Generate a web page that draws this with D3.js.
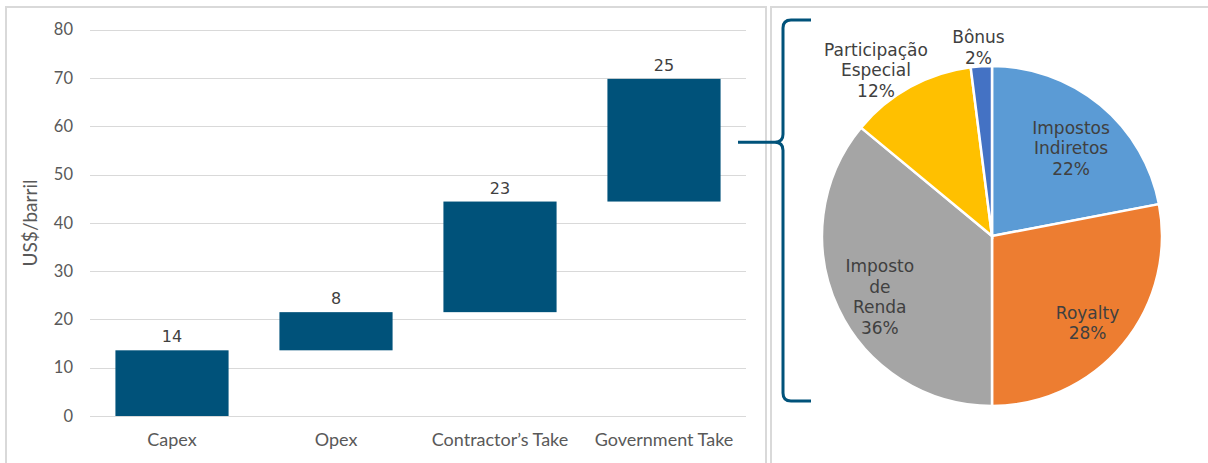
<!DOCTYPE html>
<html>
<head>
<meta charset="utf-8">
<script src="https://cdn.jsdelivr.net/npm/d3@7"></script>
<style>
  html, body { margin: 0; padding: 0; background: #fff; }
  svg { display: block; }
</style>
</head>
<body>
<svg id="chart" width="1208" height="463"></svg>
<script>
// waterfall data (US$/barril)
const categories = ['Capex', 'Opex', 'Contractor\u2019s Take', 'Government Take'];
const barValues = [13.6, 7.9, 22.9, 25.4];
const yTicks = [0, 10, 20, 30, 40, 50, 60, 70, 80];

// government take split
const pieNames = ['Impostos Indiretos', 'Royalty', 'Imposto de Renda', 'Participa\u00e7\u00e3o Especial', 'B\u00f4nus'];
const pieShares = [22, 28, 36, 12, 2];
const pieColors = ['#5b9bd5', '#ed7d31', '#a5a5a5', '#ffc000', '#4472c4'];

const barColor = '#00527a';
const axisFont = 'Lato, "Open Sans", sans-serif';
const labelFont = '"DejaVu Sans", Verdana, sans-serif';
const svg = d3.select('#chart');

// panel frames
svg.append('rect').attr('x', 6).attr('y', 7).attr('width', 760).attr('height', 470)
  .attr('fill', 'none').attr('stroke', '#d9d9d9').attr('stroke-width', 2);
svg.append('rect').attr('x', 771).attr('y', 7).attr('width', 460).attr('height', 470)
  .attr('fill', 'none').attr('stroke', '#d9d9d9').attr('stroke-width', 2);

// ---- left: waterfall ----
const x = d3.scaleBand().domain(categories).range([90, 746]).paddingInner(0.31).paddingOuter(0.155);
const y = d3.scaleLinear().domain([0, 80]).range([416, 29.6]);

// cumulative starts
let run = 0;
const steps = barValues.map((v, i) => {
  const s = { name: categories[i], start: run, end: run + v, value: v };
  run += v;
  return s;
});

const grid = svg.append('g');
grid.selectAll('line').data(yTicks).enter().append('line')
  .attr('x1', 90).attr('x2', 746)
  .attr('y1', d => Math.round(y(d)) + 0.5).attr('y2', d => Math.round(y(d)) + 0.5)
  .attr('stroke', '#d9d9d9').attr('stroke-width', 1);

const yAxis = svg.append('g').attr('transform', 'translate(90,0)')
  .call(d3.axisLeft(y).tickValues(yTicks).tickSize(0).tickPadding(17));
yAxis.select('.domain').remove();
yAxis.selectAll('text').attr('font-family', axisFont)
  .attr('font-size', 16.5).attr('fill', '#595959');

const xAxis = svg.append('g').attr('transform', 'translate(0,416)')
  .call(d3.axisBottom(x).tickSize(0).tickPadding(17));
xAxis.select('.domain').remove();
xAxis.selectAll('text').attr('font-family', axisFont)
  .attr('font-size', 18).attr('fill', '#595959');

svg.append('text')
  .attr('transform', 'translate(37,223) rotate(-90)')
  .attr('text-anchor', 'middle')
  .attr('font-family', axisFont)
  .attr('font-size', 19).attr('fill', '#595959')
  .text('US$/barril');

svg.append('g').selectAll('rect').data(steps).enter().append('rect')
  .attr('x', d => x(d.name))
  .attr('width', x.bandwidth())
  .attr('y', d => y(d.end))
  .attr('height', d => y(d.start) - y(d.end))
  .attr('fill', barColor);

svg.append('g').selectAll('text').data(steps).enter().append('text')
  .attr('x', d => x(d.name) + x.bandwidth() / 2)
  .attr('y', d => y(d.end) - 8)
  .attr('text-anchor', 'middle')
  .attr('font-family', labelFont)
  .attr('font-size', 16).attr('fill', '#404040')
  .text(d => d3.format('.0f')(d.value));

// brace linking Government Take to the pie
const gov = steps[steps.length - 1];
const braceMid = (y(gov.start) + y(gov.end)) / 2 + 2;
const bx = 783, braceTop = 20, braceBot = 401;
const brace = d3.path();
brace.moveTo(811, braceTop);
brace.lineTo(bx + 8, braceTop);
brace.quadraticCurveTo(bx, braceTop, bx, braceTop + 8);
brace.lineTo(bx, braceMid - 8);
brace.quadraticCurveTo(bx, braceMid, bx - 8, braceMid);
brace.quadraticCurveTo(bx, braceMid, bx, braceMid + 8);
brace.lineTo(bx, braceBot - 8);
brace.quadraticCurveTo(bx, braceBot, bx + 8, braceBot);
brace.lineTo(811, braceBot);
svg.append('path').attr('d', brace.toString())
  .attr('fill', 'none').attr('stroke', barColor).attr('stroke-width', 3);
svg.append('line').attr('x1', 738).attr('x2', bx - 8)
  .attr('y1', braceMid).attr('y2', braceMid)
  .attr('stroke', barColor).attr('stroke-width', 3);

// ---- right: pie ----
const cx = 992, cy = 236, r = 170;
const pie = d3.pie().sort(null).value(d => d.share);
const slices = pie(pieNames.map((n, i) => ({ name: n, share: pieShares[i], color: pieColors[i] })));
const arc = d3.arc().innerRadius(0).outerRadius(r);
const inLabel = d3.arc().innerRadius(124).outerRadius(124);
const outLabel = d3.arc().innerRadius(189).outerRadius(189);

const pg = svg.append('g').attr('transform', `translate(${cx},${cy})`);
pg.selectAll('path').data(slices).enter().append('path')
  .attr('d', arc)
  .attr('fill', d => d.data.color)
  .attr('stroke', '#fff').attr('stroke-width', 2.5);

const lineH = 20.5;
pg.selectAll('text.lbl').data(slices).enter().append('text')
  .attr('class', 'lbl')
  .attr('text-anchor', 'middle')
  .attr('font-family', labelFont)
  .attr('font-size', 17).attr('fill', '#404040')
  .each(function (d) {
    const outside = d.data.share < 15;
    const lines = d.data.name.split(' ').concat([d.data.share + '%']);
    const t = d3.select(this);
    lines.forEach((s, i) => {
      t.append('tspan').attr('x', 0)
        .attr('y', (i - (lines.length - 1) / 2) * lineH + 6)
        .text(s);
    });
    let [lx, ly] = (outside ? outLabel : inLabel).centroid(d);
    if (outside) {
      // push outside labels away from the pie by half their width
      const a = (d.startAngle + d.endAngle) / 2;
      lx += Math.sin(a) * this.getBBox().width / 2;
    } else {
      ly += 8;
    }
    t.attr('transform', `translate(${lx},${ly})`);
  });
</script>
</body>
</html>
